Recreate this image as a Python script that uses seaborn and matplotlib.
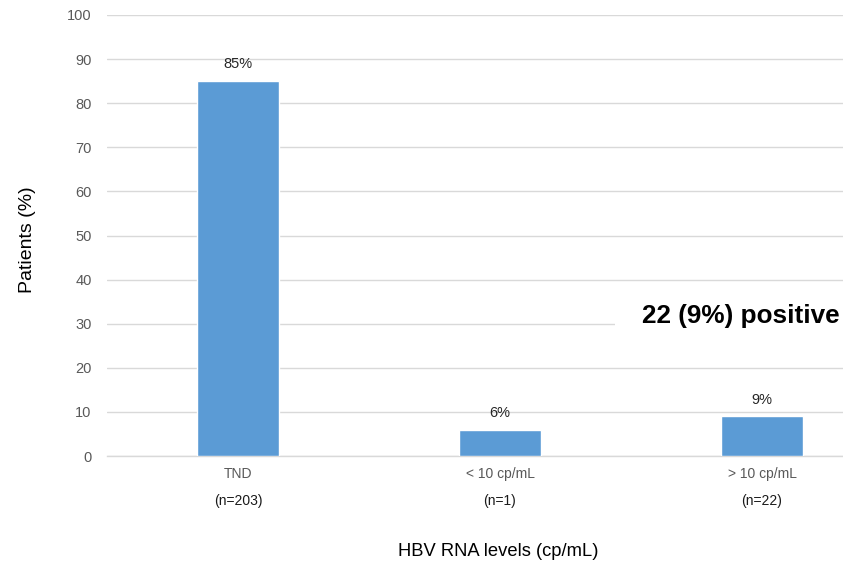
import matplotlib
matplotlib.use("Agg")
import matplotlib.pyplot as plt
import matplotlib.transforms as mtransforms
from matplotlib.patches import Rectangle
import seaborn as sns
import pandas as pd

categories = ["TND", "< 10 cp/mL", "> 10 cp/mL"]
group_sizes = ["(n=203)", "(n=1)", "(n=22)"]
patients_pct = [85, 6, 9]
value_labels = ["85%", "6%", "9%"]
y_ticks = [0, 10, 20, 30, 40, 50, 60, 70, 80, 90, 100]

df = pd.DataFrame({"level": categories, "pct": patients_pct})

sns.set_theme(style="white")
plt.rcParams["font.family"] = ["Liberation Sans", "DejaVu Sans"]

W, H = 843, 564
fig = plt.figure(figsize=(W / 100, H / 100), dpi=100)
left, right, top, bottom = 107, 843, 15, 456
ax = fig.add_axes([left / W, 1 - bottom / H, (right - left) / W, (bottom - top) / H])

bar_color = "#5B9BD5"
sns.barplot(data=df, x="level", y="pct", color=bar_color, width=0.31,
            saturation=1, ax=ax, zorder=3)

ax.set_xlim(-0.5, (right - left) / 262 - 0.5)
ax.set_ylim(0, 100)
ax.set_yticks(y_ticks)
ax.set_yticklabels([str(t) for t in y_ticks], fontsize=10.5, color="#595959")
ax.tick_params(axis="y", length=0, pad=11)
ax.tick_params(axis="x", length=0, pad=8)
ax.set_xticks(range(len(categories)))
ax.set_xticklabels(categories, fontsize=10, color="#595959")

ax.grid(axis="y", color="#d9d9d9", linewidth=1, zorder=0)
ax.grid(axis="x", visible=False)
for s in ["top", "right", "left"]:
    ax.spines[s].set_visible(False)
ax.spines["bottom"].set_color("#d9d9d9")
ax.spines["bottom"].set_linewidth(1)

# Value labels above bars
for i, (v, lab) in enumerate(zip(patients_pct, value_labels)):
    ax.annotate(lab, (i, v), xytext=(0, 7), textcoords="offset points",
                ha="center", va="bottom", fontsize=10.5, color="#262626")

# Group sizes under category names
trans = mtransforms.blended_transform_factory(ax.transData, fig.transFigure)
for i, n in enumerate(group_sizes):
    ax.text(i, 1 - 501 / H, n, transform=trans, ha="center", va="center",
            fontsize=10, color="#1a1a1a")

ax.set_xlabel("")
ax.set_ylabel("")
fig.text(28 / W, 1 - 240 / H, "Patients (%)", rotation=90, ha="center",
         va="center", fontsize=14, color="black")
fig.text(498 / W, 1 - 551 / H, "HBV RNA levels (cp/mL)", ha="center",
         va="center", fontsize=13.2, color="black")

# Callout box with white background over the grid
fig.patches.append(Rectangle((615 / W, 1 - 333 / H), (W - 615) / W, 36 / H,
                             transform=fig.transFigure, facecolor="white",
                             edgecolor="none", zorder=5))
fig.text(642 / W, 1 - 316 / H, "22 (9%) positive", ha="left", va="center",
         fontsize=18.8, fontweight="bold", color="black", zorder=6)

fig.savefig("out.png", dpi=100)
